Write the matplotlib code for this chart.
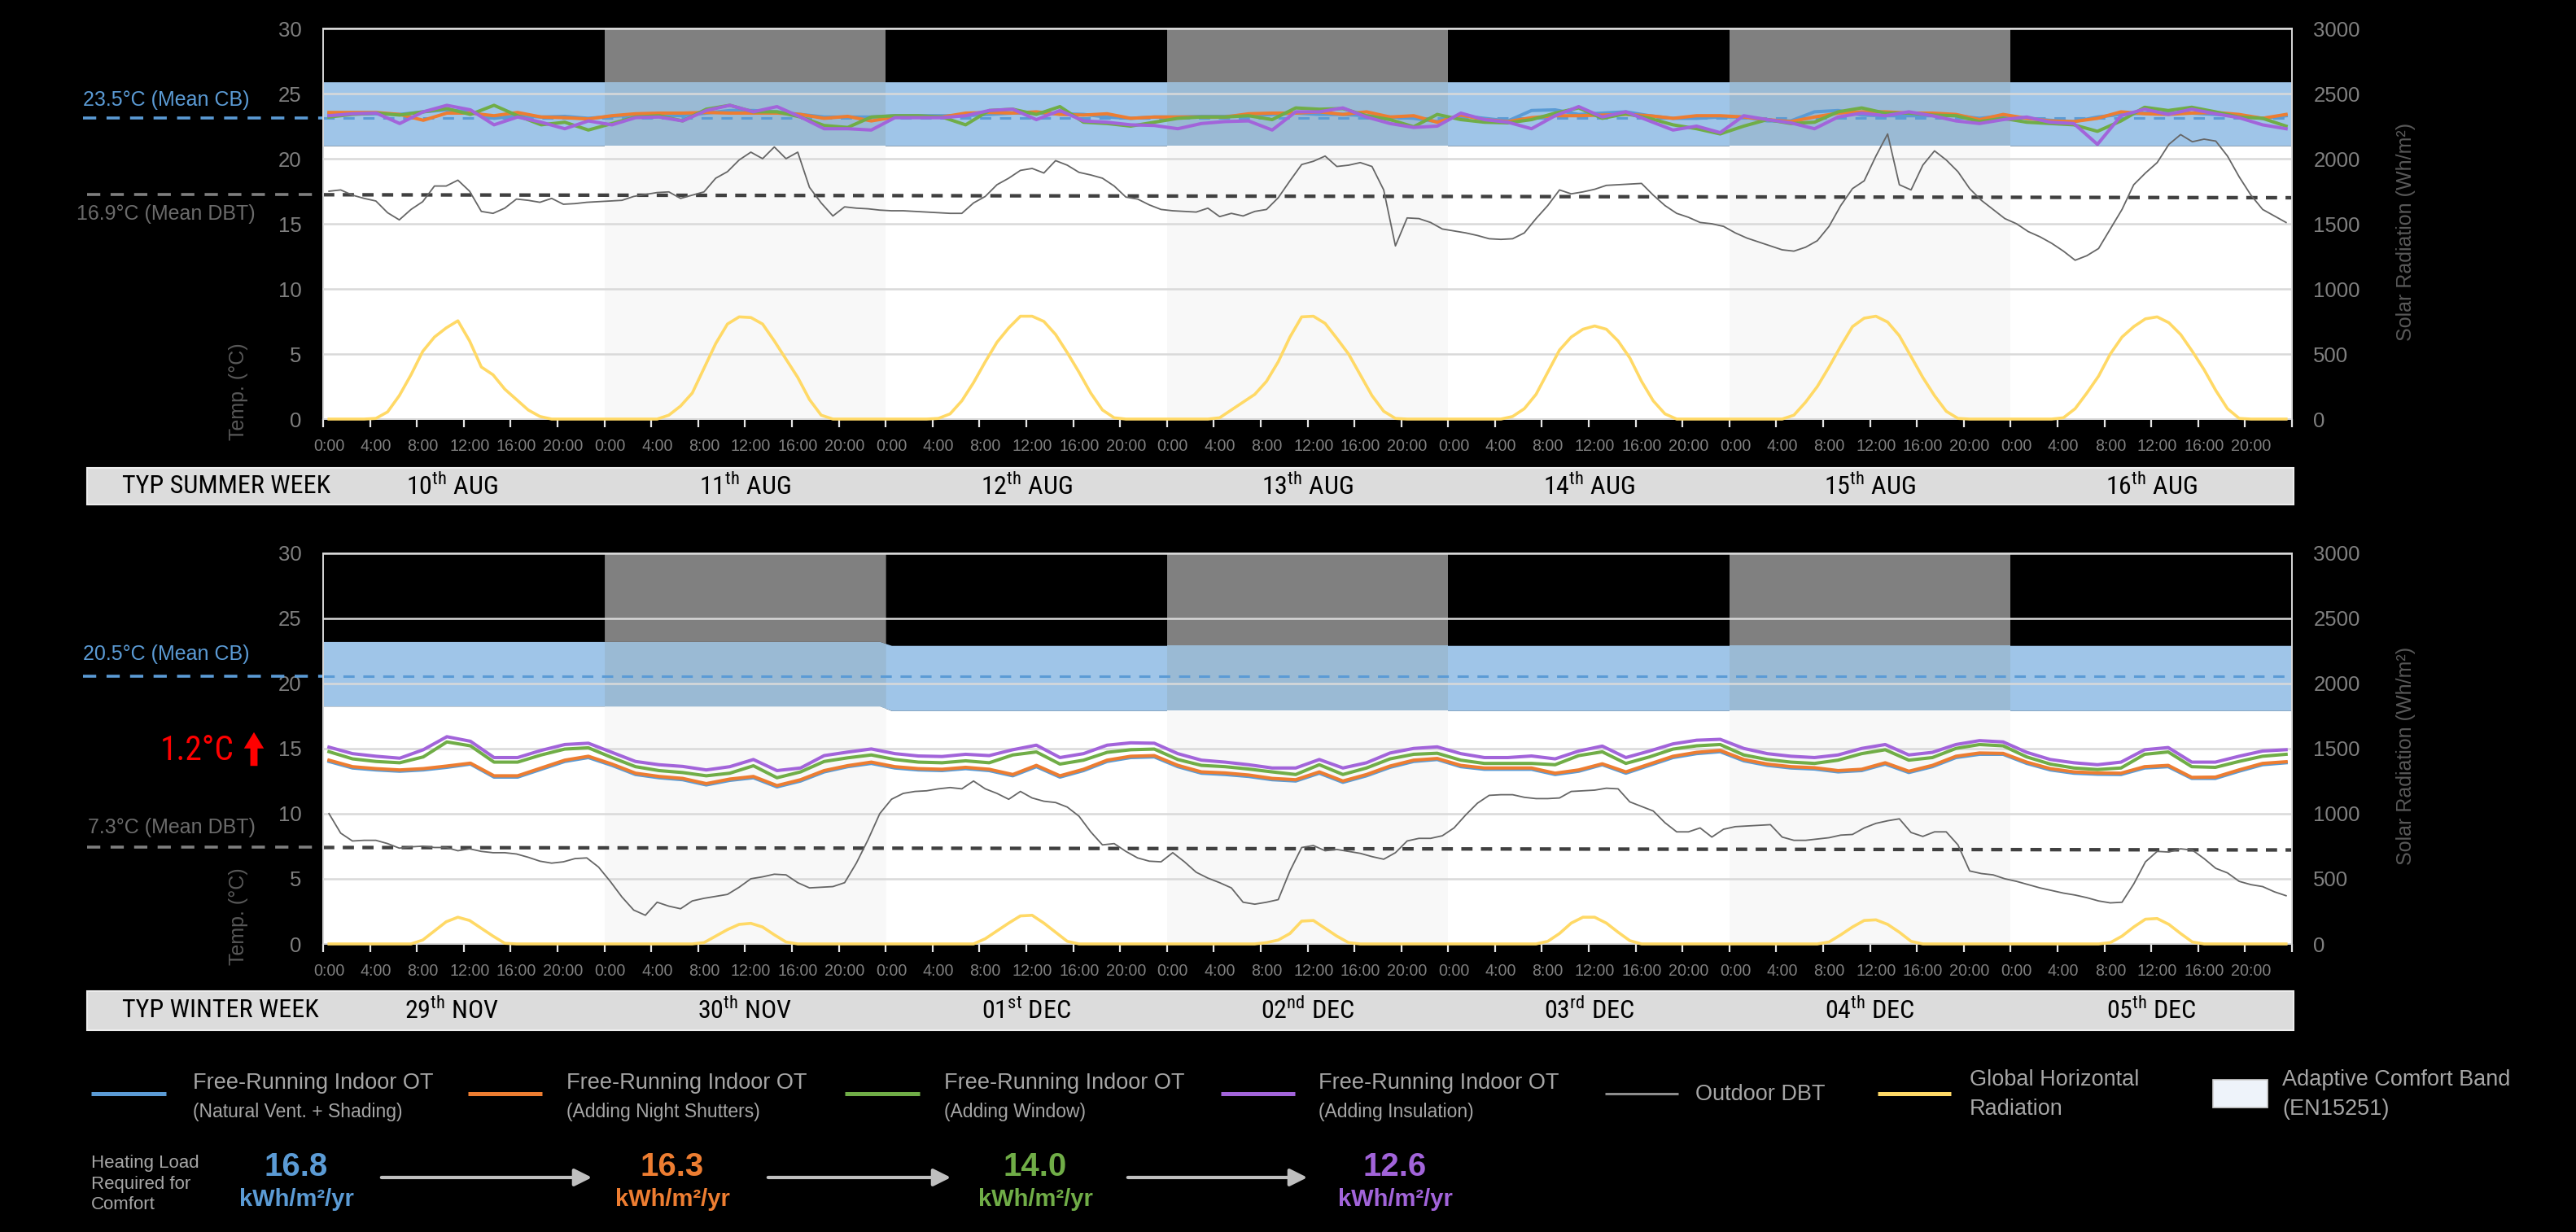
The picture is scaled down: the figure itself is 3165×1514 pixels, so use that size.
#!/usr/bin/env python3
"""plot.py

Typical summer / winter week: free-running indoor operative temperature
for four design steps, outdoor DBT, global horizontal radiation and the
EN15251 adaptive comfort band.  Writes out.png (3165 x 1514).
"""

import numpy as np
import matplotlib
matplotlib.use("Agg")
import matplotlib.pyplot as plt
import matplotlib.transforms as mtransforms
from matplotlib.lines import Line2D
from matplotlib.patches import Rectangle, FancyArrowPatch

WIDE = ["Liberation Sans", "DejaVu Sans"]
NARROW = ["Roboto Condensed", "Open Sans Condensed", "Liberation Sans Narrow",
          "Liberation Sans", "DejaVu Sans"]
plt.rcParams["font.family"] = WIDE
plt.rcParams["mathtext.fontset"] = "custom"
plt.rcParams["mathtext.rm"] = "Roboto Condensed"

# ---------------------------------------------------------------- data
HOUR_LABELS = ["0:00", "4:00", "8:00", "12:00", "16:00", "20:00"]

# summer week (10-16 AUG)
summer_title = "TYP SUMMER WEEK"
summer_day_num = ["10", "11", "12", "13", "14", "15", "16"]
summer_day_sfx = ["th", "th", "th", "th", "th", "th", "th"]
summer_month = ["AUG", "AUG", "AUG", "AUG", "AUG", "AUG", "AUG"]
summer_band_lo = [21.0, 21.0, 21.0, 21.0, 21.0, 21.0, 21.0]
summer_band_hi = [25.9, 25.9, 25.9, 25.9, 25.9, 25.9, 25.9]
summer_cb_line = 23.1
summer_dbt_trend = [17.23, 17.0]

# hourly outdoor dry bulb (degC)
summer_dbt = [
    17.5, 17.6, 17.2, 16.95, 16.75, 15.85, 15.3, 16.1, 16.7, 17.9, 17.9, 18.35,
    17.5, 15.95, 15.8, 16.2, 16.9, 16.8, 16.65, 16.95, 16.5, 16.55, 16.65, 16.7,
    16.75, 16.8, 17.1, 17.25, 17.4, 17.45, 16.95, 17.2, 17.45, 18.5, 19.0, 19.9,
    20.5, 20.0, 20.9, 20.0, 20.5, 17.8, 16.6, 15.6, 16.3, 16.2, 16.15, 16.05,
    16.0, 16.0, 15.95, 15.9, 15.85, 15.8, 15.8, 16.6, 17.1, 18.0, 18.5, 19.1,
    19.25, 18.9, 19.85, 19.5, 18.95, 18.75, 18.5, 17.9, 17.05, 16.9, 16.45, 16.1,
    16.0, 15.95, 15.9, 16.2, 15.55, 15.8, 15.6, 15.95, 16.1, 17.0, 18.3, 19.55,
    19.8, 20.2, 19.4, 19.5, 19.7, 19.4, 17.6, 13.3, 15.45, 15.4, 15.1, 14.6,
    14.45, 14.3, 14.1, 13.85, 13.8, 13.85, 14.3, 15.4, 16.4, 17.6, 17.3, 17.45,
    17.65, 17.95, 18.0, 18.05, 18.1, 17.2, 16.4, 15.8, 15.5, 15.1, 15.0, 14.8,
    14.3, 13.9, 13.6, 13.3, 13.0, 12.9, 13.2, 13.7, 14.8, 16.4, 17.7, 18.3,
    20.2, 21.9, 18.0, 17.6, 19.5, 20.6, 19.9, 19.0, 17.7, 16.8, 16.1, 15.4,
    15.0, 14.4, 14.0, 13.5, 12.9, 12.2, 12.55, 13.1, 14.6, 16.1, 18.0, 18.9,
    19.7, 21.1, 21.85, 21.3, 21.5, 21.35, 20.2, 18.6, 17.2, 16.1, 15.6, 15.1,
]

# hourly global horizontal radiation (Wh/m2)
summer_ghr = [
    0, 0, 0, 0, 5, 55, 180, 340, 520, 630, 700, 755,
    600, 400, 340, 230, 150, 70, 20, 0, 0, 0, 0, 0,
    0, 0, 0, 0, 0, 30, 100, 200, 390, 580, 730, 785,
    780, 730, 600, 460, 320, 150, 30, 0, 0, 0, 0, 0,
    0, 0, 0, 0, 5, 40, 140, 280, 440, 590, 700, 790,
    790, 750, 650, 510, 360, 200, 70, 10, 0, 0, 0, 0,
    0, 0, 0, 0, 10, 70, 130, 190, 290, 440, 630, 785,
    790, 735, 620, 500, 340, 180, 60, 5, 0, 0, 0, 0,
    0, 0, 0, 0, 0, 20, 80, 190, 360, 530, 630, 690,
    715, 690, 600, 470, 290, 140, 40, 0, 0, 0, 0, 0,
    0, 0, 0, 0, 0, 30, 130, 250, 400, 560, 710, 775,
    790, 745, 640, 480, 320, 180, 60, 5, 0, 0, 0, 0,
    0, 0, 0, 0, 10, 80, 200, 330, 500, 630, 710, 770,
    785, 740, 650, 520, 380, 220, 80, 5, 0, 0, 0, 0,
]

# two-hourly free-running indoor operative temperature (degC)
summer_ot_base = [
    23.45, 23.45, 23.45, 23.4, 23.6, 23.75, 23.6, 23.1, 23.3, 23.2, 23.25, 23.1,
    23.25, 23.35, 23.35, 23.3, 23.5, 23.7, 23.7, 23.6, 23.4, 23.2, 23.2, 23.2,
    23.3, 23.3, 23.3, 23.3, 23.4, 23.5, 23.5, 23.45, 23.4, 23.2, 23.1, 23.2,
    23.2, 23.25, 23.25, 23.3, 23.4, 23.5, 23.4, 23.4, 23.3, 23.2, 23.1, 22.85,
    23.3, 23.1, 22.9, 23.7, 23.75, 23.4, 23.5, 23.6, 23.3, 23.1, 23.1, 23.2,
    23.2, 22.9, 22.9, 23.6, 23.7, 23.35, 23.3, 23.3, 23.3, 23.3, 23.1, 23.3,
    23.1, 22.95, 22.85, 23.2, 23.4, 23.5, 23.5, 23.5, 23.4, 23.3, 23.1, 23.3,
]
summer_ot_shutters = [
    23.55, 23.55, 23.55, 23.4, 22.95, 23.5, 23.5, 23.3, 23.55, 23.2, 23.15, 23.05,
    23.3, 23.45, 23.5, 23.5, 23.55, 23.5, 23.5, 23.5, 23.4, 23.1, 23.25, 22.9,
    23.2, 23.2, 23.2, 23.5, 23.55, 23.5, 23.6, 23.4, 23.35, 23.45, 23.1, 23.2,
    23.2, 23.2, 23.2, 23.45, 23.5, 23.5, 23.6, 23.4, 23.6, 23.2, 23.3, 22.8,
    23.35, 23.0, 22.85, 23.15, 23.3, 23.3, 23.35, 23.4, 23.3, 23.1, 23.3, 23.3,
    23.2, 23.0, 22.85, 23.2, 23.5, 23.6, 23.6, 23.5, 23.5, 23.4, 23.0, 23.4,
    23.1, 22.9, 22.85, 23.1, 23.6, 23.45, 23.4, 23.5, 23.55, 23.4, 23.1, 23.4,
]
summer_ot_window = [
    23.2, 23.4, 23.5, 23.35, 23.6, 23.85, 23.4, 24.1, 23.3, 22.6, 22.8, 22.2,
    22.7, 23.2, 23.3, 22.9, 23.8, 24.1, 23.6, 23.6, 23.2, 22.55, 22.4, 23.2,
    23.3, 23.3, 23.2, 22.6, 23.7, 23.8, 23.4, 24.0, 22.8, 22.7, 22.5, 22.8,
    23.1, 23.2, 23.2, 23.3, 23.0, 23.9, 23.8, 23.85, 23.3, 23.0, 22.45, 23.4,
    23.0, 22.8, 22.75, 23.0, 23.5, 23.9, 23.1, 23.45, 23.1, 22.6, 22.3, 21.9,
    22.5, 23.0, 22.7, 22.8, 23.6, 23.9, 23.5, 23.5, 23.35, 23.3, 22.85, 23.1,
    22.8, 22.7, 22.6, 22.1, 22.9, 23.95, 23.7, 23.95, 23.6, 23.2, 23.1, 22.5,
]
summer_ot_insulation = [
    23.3, 23.45, 23.5, 22.7, 23.6, 24.1, 23.75, 22.6, 23.2, 22.8, 22.3, 22.9,
    22.6, 23.15, 23.2, 22.9, 23.7, 24.1, 23.6, 24.0, 23.2, 22.3, 22.3, 22.2,
    23.15, 23.15, 23.15, 23.3, 23.7, 23.8, 23.0, 23.7, 22.9, 22.8, 22.6, 22.55,
    22.3, 22.7, 22.85, 22.9, 22.2, 23.6, 23.6, 23.9, 23.2, 22.7, 22.4, 22.5,
    23.5, 23.0, 22.8, 22.3, 23.3, 24.0, 23.2, 23.6, 22.9, 22.2, 22.5, 22.0,
    23.3, 23.0, 22.75, 22.3, 23.2, 23.5, 23.3, 23.6, 23.3, 22.9, 22.7, 23.0,
    23.2, 22.8, 22.7, 21.1, 23.3, 23.8, 23.4, 23.8, 23.45, 23.15, 22.6, 22.3,
]

# winter week (29 NOV - 05 DEC)
winter_title = "TYP WINTER WEEK"
winter_day_num = ["29", "30", "01", "02", "03", "04", "05"]
winter_day_sfx = ["th", "th", "st", "nd", "rd", "th", "th"]
winter_month = ["NOV", "NOV", "DEC", "DEC", "DEC", "DEC", "DEC"]
winter_band_lo = [18.25, 18.25, 17.9, 17.9, 17.9, 17.9, 17.9]
winter_band_hi = [23.2, 23.2, 22.9, 22.9, 22.9, 22.9, 22.9]
winter_cb_line = 20.55
winter_dbt_trend = [7.4, 7.21]

winter_dbt = [
    10.0, 8.5, 7.9, 7.95, 7.95, 7.7, 7.35, 7.45, 7.5, 7.4, 7.4, 7.15,
    7.3, 7.1, 7.0, 7.0, 6.9, 6.65, 6.35, 6.2, 6.3, 6.55, 6.6, 5.9,
    4.8, 3.6, 2.6, 2.2, 3.2, 2.9, 2.7, 3.3, 3.5, 3.65, 3.8, 4.35,
    5.0, 5.15, 5.35, 5.3, 4.7, 4.3, 4.35, 4.4, 4.7, 6.2, 8.0, 10.0,
    11.1, 11.55, 11.7, 11.75, 11.9, 12.0, 11.9, 12.5, 11.9, 11.55, 11.1, 11.7,
    11.2, 10.95, 10.85, 10.5, 9.8, 8.6, 7.6, 7.7, 7.1, 6.6, 6.35, 6.3,
    7.0, 6.3, 5.5, 5.05, 4.7, 4.3, 3.2, 3.05, 3.2, 3.4, 5.6, 7.4,
    7.55, 7.15, 7.25, 7.1, 6.95, 6.7, 6.5, 7.0, 7.9, 8.1, 8.1, 8.3,
    8.9, 9.9, 10.8, 11.4, 11.45, 11.45, 11.25, 11.15, 11.15, 11.2, 11.7, 11.75,
    11.8, 11.95, 11.9, 10.9, 10.55, 10.2, 9.3, 8.6, 8.6, 8.9, 8.2, 8.8,
    9.0, 9.05, 9.1, 9.15, 8.2, 7.95, 7.95, 8.05, 8.15, 8.35, 8.4, 8.9,
    9.25, 9.45, 9.6, 8.55, 8.25, 8.6, 8.6, 7.6, 5.6, 5.4, 5.3, 5.0,
    4.8, 4.55, 4.3, 4.1, 3.9, 3.75, 3.55, 3.3, 3.15, 3.2, 4.6, 6.3,
    7.1, 7.05, 7.3, 7.2, 6.55, 5.8, 5.45, 4.8, 4.55, 4.4, 4.0, 3.7,
]

winter_ghr = [
    0, 0, 0, 0, 0, 0, 0, 0, 30, 100, 170, 205,
    180, 120, 60, 5, 0, 0, 0, 0, 0, 0, 0, 0,
    0, 0, 0, 0, 0, 0, 0, 0, 10, 60, 110, 150,
    158, 130, 70, 15, 0, 0, 0, 0, 0, 0, 0, 0,
    0, 0, 0, 0, 0, 0, 0, 0, 40, 100, 160, 215,
    220, 160, 90, 20, 0, 0, 0, 0, 0, 0, 0, 0,
    0, 0, 0, 0, 0, 0, 0, 0, 10, 30, 80, 175,
    180, 120, 60, 10, 0, 0, 0, 0, 0, 0, 0, 0,
    0, 0, 0, 0, 0, 0, 0, 0, 20, 80, 160, 205,
    205, 160, 90, 25, 0, 0, 0, 0, 0, 0, 0, 0,
    0, 0, 0, 0, 0, 0, 0, 0, 15, 70, 130, 180,
    185, 150, 90, 20, 0, 0, 0, 0, 0, 0, 0, 0,
    0, 0, 0, 0, 0, 0, 0, 0, 10, 60, 130, 190,
    195, 150, 80, 15, 0, 0, 0, 0, 0, 0, 0, 0,
]

winter_ot_base = [
    14.0, 13.5, 13.35, 13.25, 13.35, 13.55, 13.8, 12.8, 12.8, 13.4, 14.0, 14.3,
    13.7, 13.0, 12.75, 12.6, 12.2, 12.55, 12.75, 12.05, 12.5, 13.2, 13.6, 13.85,
    13.5, 13.35, 13.3, 13.45, 13.3, 12.9, 13.6, 12.8, 13.3, 14.0, 14.3, 14.35,
    13.6, 13.1, 13.0, 12.85, 12.6, 12.5, 13.1, 12.4, 12.9, 13.55, 14.0, 14.15,
    13.6, 13.4, 13.4, 13.4, 13.0, 13.25, 13.75, 13.1, 13.7, 14.3, 14.6, 14.75,
    14.05, 13.7, 13.5, 13.42, 13.2, 13.3, 13.8, 13.15, 13.6, 14.3, 14.55, 14.55,
    13.85, 13.35, 13.1, 13.02, 13.0, 13.5, 13.6, 12.7, 12.7, 13.25, 13.75, 13.9,
]
winter_ot_shutters = [
    14.1, 13.6, 13.45, 13.35, 13.45, 13.65, 13.87, 12.9, 12.9, 13.5, 14.1, 14.4,
    13.8, 13.1, 12.85, 12.7, 12.3, 12.65, 12.85, 12.15, 12.6, 13.3, 13.68, 13.95,
    13.6, 13.45, 13.4, 13.55, 13.4, 13.0, 13.7, 12.9, 13.4, 14.1, 14.4, 14.45,
    13.7, 13.2, 13.12, 12.96, 12.7, 12.6, 13.2, 12.5, 13.0, 13.65, 14.1, 14.23,
    13.7, 13.5, 13.5, 13.5, 13.1, 13.35, 13.82, 13.2, 13.8, 14.4, 14.7, 14.85,
    14.15, 13.8, 13.6, 13.52, 13.3, 13.4, 13.9, 13.25, 13.7, 14.4, 14.65, 14.62,
    13.95, 13.45, 13.2, 13.12, 13.1, 13.6, 13.7, 12.78, 12.8, 13.35, 13.85, 13.98,
]
winter_ot_window = [
    14.75, 14.2, 14.0, 13.9, 14.35, 15.5, 15.2, 13.95, 13.95, 14.5, 14.95, 15.05,
    14.3, 13.6, 13.3, 13.15, 12.9, 13.1, 13.67, 12.75, 13.2, 14.0, 14.28, 14.5,
    14.15, 13.95, 13.9, 14.05, 13.9, 14.5, 14.73, 13.8, 14.1, 14.7, 14.9, 14.95,
    14.15, 13.7, 13.6, 13.42, 13.2, 13.0, 13.75, 13.0, 13.5, 14.2, 14.55, 14.63,
    14.1, 13.85, 13.85, 13.85, 13.75, 14.45, 14.74, 13.85, 14.35, 14.95, 15.2, 15.3,
    14.5, 14.15, 13.95, 13.85, 14.1, 14.6, 14.9, 14.1, 14.3, 15.0, 15.3, 15.2,
    14.35, 13.8, 13.5, 13.38, 13.5, 14.55, 14.73, 13.6, 13.55, 14.0, 14.4, 14.55,
]
winter_ot_insulation = [
    15.1, 14.6, 14.4, 14.25, 14.9, 15.9, 15.55, 14.3, 14.3, 14.85, 15.3, 15.4,
    14.7, 14.0, 13.75, 13.62, 13.35, 13.6, 14.15, 13.3, 13.5, 14.45, 14.72, 14.96,
    14.6, 14.42, 14.38, 14.55, 14.45, 14.9, 15.25, 14.3, 14.6, 15.25, 15.43, 15.4,
    14.6, 14.1, 13.95, 13.75, 13.5, 13.5, 14.15, 13.5, 13.9, 14.65, 15.0, 15.12,
    14.6, 14.3, 14.3, 14.42, 14.2, 14.8, 15.18, 14.3, 14.8, 15.35, 15.63, 15.7,
    15.0, 14.6, 14.4, 14.3, 14.5, 15.0, 15.3, 14.5, 14.7, 15.3, 15.6, 15.5,
    14.7, 14.15, 13.9, 13.75, 13.95, 14.9, 15.07, 13.95, 13.95, 14.4, 14.8, 14.9,
]

# legend and heating load summary
legend_main = ["Free-Running Indoor OT", "Free-Running Indoor OT",
               "Free-Running Indoor OT", "Free-Running Indoor OT",
               "Outdoor DBT", "Global Horizontal\nRadiation",
               "Adaptive Comfort Band\n(EN15251)"]
legend_sub = ["(Natural Vent. + Shading)", "(Adding Night Shutters)",
              "(Adding Window)", "(Adding Insulation)"]
heating_load = ["16.8", "16.3", "14.0", "12.6"]
heating_unit = "kWh/m\u00b2/yr"

# ---------------------------------------------------------------- style
W, H = 3165, 1514
OT_COLORS = ["#5B9BD5", "#ED7D31", "#70AD47", "#A264DA"]
DBT_COLOR = "#666666"
GHR_COLOR = "#FFD966"
BAND = "#9FC5E8"
BAND_SHADE = "#9ABAD4"
GRID = "#D9D9D9"
TICK_TXT = "#7F7F7F"
LEG_TXT = "#A6A6A6"

fig = plt.figure(figsize=(W / 100, H / 100), dpi=100, facecolor="black")


def fpos(x, y):
    """Figure pixel (from top-left) to figure fraction."""
    return x / W, 1 - y / H


def ftext(x, y, s, **kw):
    fig.text(*fpos(x, y), s, **kw)


def draw_week(top, bottom, dbt, ghr, ots, band_lo, band_hi, cb_line, dbt_trend,
              title, day_num, day_sfx, month, bar_top, bar_bottom):
    ax = fig.add_axes([397 / W, 1 - bottom / H, 2419 / W, (bottom - top) / H])
    ax.set_facecolor("black")
    ax.set_xlim(0, 168)
    ax.set_ylim(0, 30)

    # comfort band polygon, ramping between days when the limits change
    bx, blo, bhi = [], [], []
    for d in range(7):
        bx += [0.0 if d == 0 else 24 * d + 0.5, 168.0 if d == 6 else 24 * d + 23.5]
        blo += [band_lo[d], band_lo[d]]
        bhi += [band_hi[d], band_hi[d]]
    xx = np.linspace(0, 168, 3361)
    lo = np.interp(xx, bx, blo)
    hi = np.interp(xx, bx, bhi)
    ax.fill_between(xx, 0, lo, color="white", lw=0, zorder=0.1)
    ax.fill_between(xx, lo, hi, color=BAND, lw=0, zorder=0.1)
    for d in (1, 3, 5):
        m = (xx >= 24 * d) & (xx <= 24 * d + 24)
        ax.fill_between(xx[m], 0, lo[m], color="#F8F8F8", lw=0, zorder=0.2)
        ax.fill_between(xx[m], lo[m], hi[m], color=BAND_SHADE, lw=0, zorder=0.2)
        ax.fill_between(xx[m], hi[m], 30, color="#808080", lw=0, zorder=0.2)

    ax.set_axisbelow(True)
    ax.set_yticks(range(0, 31, 5))
    ax.yaxis.grid(True, color=GRID, lw=1.8)
    ax.tick_params(axis="y", length=0, pad=19, labelsize=18.5, labelcolor=TICK_TXT)
    for s in ax.spines.values():
        s.set_color(GRID)
        s.set_linewidth(1.4)

    ax.set_xticks(range(0, 169, 4))
    ax.set_xticklabels([])
    ax.tick_params(axis="x", which="major", length=7, width=1.6, color="#E6E6E6")
    ax.set_xticks(np.arange(0.5, 168, 4), minor=True)
    ax.set_xticklabels(HOUR_LABELS * 7, minor=True)
    ax.tick_params(axis="x", which="minor", length=0, pad=17, labelsize=14.2,
                   labelcolor=TICK_TXT)

    hours = np.arange(len(dbt)) + 0.5
    ax.plot([0, 168], dbt_trend, color="#404040", lw=3.1, dashes=(3.2, 2.4), zorder=1.6)
    ax.plot(hours, dbt, color=DBT_COLOR, lw=1.3, zorder=1.8)
    ax.plot([0, 168], [cb_line, cb_line], color="#5B9BD5", lw=2.2, dashes=(4.5, 3.5),
            zorder=1.7)
    for vals, c in zip(ots, OT_COLORS):
        x2 = np.linspace(0.5, 167.5, len(vals))
        ax.plot(x2, vals, color=c, lw=2.9, zorder=2.2, solid_joinstyle="round")

    # margin continuation of the two mean lines
    ytr = ax.get_yaxis_transform()
    ax.plot([-0.122, 0], [cb_line, cb_line], transform=ytr, clip_on=False,
            color="#5B9BD5", lw=2.6, dashes=(4.5, 3.5))
    ax.plot([-0.12, 0], [dbt_trend[0]] * 2, transform=ytr, clip_on=False,
            color="#7F7F7F", lw=2.6, dashes=(4.5, 3.5))

    ax.text(-0.043, 0.07, "Temp. (\u00b0C)", transform=ax.transAxes, rotation=90,
            ha="center", va="center", fontsize=18, color="#595959")

    ax2 = ax.twinx()
    ax2.set_ylim(0, 3000)
    ax2.set_yticks(range(0, 3001, 500))
    ax2.tick_params(axis="y", length=0, pad=19, labelsize=18.5, labelcolor=TICK_TXT)
    for s in ax2.spines.values():
        s.set_visible(False)
    ax2.plot(hours, ghr, color=GHR_COLOR, lw=2.6, clip_on=False, zorder=3)
    ax2.text(1.058, 0.48, "Solar Radiation (Wh/m\u00b2)", transform=ax.transAxes,
             rotation=90, ha="center", va="center", fontsize=18, color="#595959")

    # date bar (kept under the axes so the day labels show on top)
    fig.patches.append(Rectangle(fpos(107, bar_bottom), (2818 - 107) / W,
                                 (bar_bottom - bar_top) / H, transform=fig.transFigure,
                                 facecolor="#DCDCDC", edgecolor="#EDEDED", lw=1.5,
                                 zorder=-1))
    ymid = 1 - (bar_top + bar_bottom) / 2 / H
    ftext(150, (bar_top + bar_bottom) / 2, title, ha="left", va="center",
          fontsize=23, family=NARROW, color="black")
    btr = mtransforms.blended_transform_factory(ax.transData, fig.transFigure)
    for d in range(7):
        xc = 24 * d + (11 if d == 0 else 12)
        fig.text(xc, ymid, f"{day_num[d]}$^{{\\mathrm{{{day_sfx[d]}}}}}$ {month[d]}",
                 transform=btr, ha="center", va="center", fontsize=23,
                 family=NARROW, color="black")
    return ax


draw_week(35, 515, summer_dbt, summer_ghr,
          [summer_ot_base, summer_ot_shutters, summer_ot_window, summer_ot_insulation],
          summer_band_lo, summer_band_hi, summer_cb_line, summer_dbt_trend,
          summer_title, summer_day_num, summer_day_sfx, summer_month, 575, 620)
draw_week(679.5, 1160, winter_dbt, winter_ghr,
          [winter_ot_base, winter_ot_shutters, winter_ot_window, winter_ot_insulation],
          winter_band_lo, winter_band_hi, winter_cb_line, winter_dbt_trend,
          winter_title, winter_day_num, winter_day_sfx, winter_month, 1218, 1266)

# annotations in the left margin
ftext(102, 123, "23.5\u00b0C (Mean CB)", ha="left", va="center", fontsize=18,
      color="#5B9BD5")
ftext(314, 263, "16.9\u00b0C (Mean DBT)", ha="right", va="center", fontsize=18,
      color="#6B6B6B")
ftext(102, 804, "20.5\u00b0C (Mean CB)", ha="left", va="center", fontsize=18,
      color="#5B9BD5")
ftext(314, 1017, "7.3\u00b0C (Mean DBT)", ha="right", va="center", fontsize=18,
      color="#6B6B6B")
ftext(288, 922, "1.2\u00b0C", ha="right", va="center", fontsize=30, family=NARROW,
      color="#FF0000")
fig.add_artist(FancyArrowPatch(
    (312, H - 944), (312, H - 897), transform=None,
    arrowstyle="simple,head_width=1.1,head_length=0.9,tail_width=0.4",
    mutation_scale=16, color="#FF0000", lw=0))

# legend row
line_x = [(112, 204), (575, 666), (1038, 1130), (1500, 1591), (1972, 2062), (2307, 2397)]
line_c = OT_COLORS + ["#8C8C8C", GHR_COLOR]
line_w = [3.6, 3.6, 3.6, 3.6, 2.2, 3.6]
text_x = [237, 696, 1160, 1620, 2083, 2420, 2804]
for (x0, x1), c, lw in zip(line_x, line_c, line_w):
    fig.add_artist(Line2D([x0 / W, x1 / W], [1 - 1344 / H] * 2, transform=fig.transFigure,
                          color=c, lw=lw, solid_capstyle="butt"))
for i, tx in enumerate(text_x):
    if i < 4:
        ftext(tx, 1331, legend_main[i], ha="left", va="center", fontsize=19.5, color=LEG_TXT)
        ftext(tx, 1366, legend_sub[i], ha="left", va="center", fontsize=16.5, color=LEG_TXT)
    else:
        ftext(tx, 1345, legend_main[i], ha="left", va="center", fontsize=19.5,
              color=LEG_TXT, linespacing=1.45)
fig.patches.append(Rectangle(fpos(2719, 1361), 67 / W, 34 / H, transform=fig.transFigure,
                             facecolor="#EEF3FA", edgecolor="#D0D0D0", lw=1.2))

# heating load summary
ftext(112, 1455, "Heating Load\nRequired for\nComfort", ha="left", va="center",
      fontsize=16, color=LEG_TXT, linespacing=1.25)
val_x = [364, 826, 1272, 1714]
for v, xc, c in zip(heating_load, val_x, OT_COLORS):
    ftext(xc, 1434, v, ha="center", va="center", fontsize=29, weight="bold", color=c)
    ftext(xc, 1474, heating_unit, ha="center", va="center", fontsize=21, weight="bold",
          color=c)
for x0, x1 in [(466, 730), (941, 1171), (1383, 1609)]:
    fig.add_artist(FancyArrowPatch(
        (x0, H - 1447), (x1, H - 1447), transform=None,
        arrowstyle="-|>,head_width=0.4,head_length=0.8", mutation_scale=16,
        color="#BFBFBF", lw=3.0))

fig.savefig("out.png", dpi=100, facecolor="black")
